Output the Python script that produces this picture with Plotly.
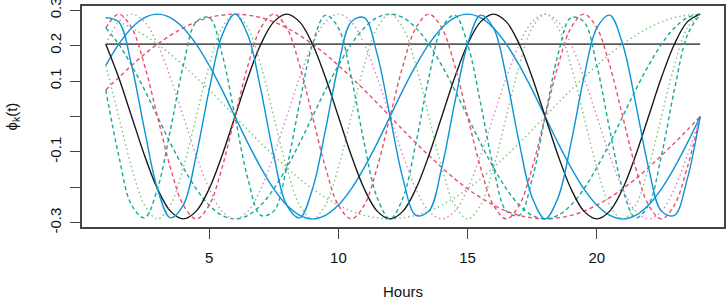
import plotly.graph_objects as go

# Evaluation grid (hours)
hours = [1, 1.5, 2, 2.5, 3, 3.5, 4, 4.5, 5, 5.5, 6, 6.5, 7, 7.5, 8, 8.5, 9, 9.5,
         10, 10.5, 11, 11.5, 12, 12.5, 13, 13.5, 14, 14.5, 15, 15.5, 16, 16.5,
         17, 17.5, 18, 18.5, 19, 19.5, 20, 20.5, 21, 21.5, 22, 22.5, 23, 23.5, 24]

# Fourier basis functions phi_k(t) read at each grid hour
const = [0.204] * 47

sin1 = [.075, .110, .144, .176, .204, .229, .250, .267, .279, .286, .289, .286, .279, .267,
        .250, .229, .204, .176, .144, .110, .075, .038, 0, -.038, -.075, -.110, -.144, -.176,
        -.204, -.229, -.250, -.267, -.279, -.286, -.289, -.286, -.279, -.267, -.250, -.229,
        -.204, -.176, -.144, -.110, -.075, -.038, 0]

cos1 = [.279, .267, .250, .229, .204, .176, .144, .110, .075, .038, 0, -.038, -.075, -.110,
        -.144, -.176, -.204, -.229, -.250, -.267, -.279, -.286, -.289, -.286, -.279, -.267,
        -.250, -.229, -.204, -.176, -.144, -.110, -.075, -.038, 0, .038, .075, .110, .144,
        .176, .204, .229, .250, .267, .279, .286, .289]

sin2 = [.144, .204, .250, .279, .289, .279, .250, .204, .144, .075, 0, -.075, -.144, -.204,
        -.250, -.279, -.289, -.279, -.250, -.204, -.144, -.075, 0, .075, .144, .204, .250,
        .279, .289, .279, .250, .204, .144, .075, 0, -.075, -.144, -.204, -.250, -.279,
        -.289, -.279, -.250, -.204, -.144, -.075, 0]

cos2 = [.250, .204, .144, .075, 0, -.075, -.144, -.204, -.250, -.279, -.289, -.279, -.250,
        -.204, -.144, -.075, 0, .075, .144, .204, .250, .279, .289, .279, .250, .204, .144,
        .075, 0, -.075, -.144, -.204, -.250, -.279, -.289, -.279, -.250, -.204, -.144, -.075,
        0, .075, .144, .204, .250, .279, .289]

sin3 = [.204, .267, .289, .267, .204, .110, 0, -.110, -.204, -.267, -.289, -.267, -.204, -.110,
        0, .110, .204, .267, .289, .267, .204, .110, 0, -.110, -.204, -.267, -.289, -.267,
        -.204, -.110, 0, .110, .204, .267, .289, .267, .204, .110, 0, -.110, -.204, -.267,
        -.289, -.267, -.204, -.110, 0]

cos3 = [.204, .110, 0, -.110, -.204, -.267, -.289, -.267, -.204, -.110, 0, .110, .204, .267,
        .289, .267, .204, .110, 0, -.110, -.204, -.267, -.289, -.267, -.204, -.110, 0, .110,
        .204, .267, .289, .267, .204, .110, 0, -.110, -.204, -.267, -.289, -.267, -.204,
        -.110, 0, .110, .204, .267, .289]

sin4 = [.250, .289, .250, .144, 0, -.144, -.250, -.289, -.250, -.144,
        0, .144, .250, .289, .250, .144, 0, -.144, -.250, -.289, -.250, -.144,
        0, .144, .250, .289, .250, .144, 0, -.144, -.250, -.289, -.250, -.144,
        0, .144, .250, .289, .250, .144, 0, -.144, -.250, -.289, -.250, -.144, 0]

cos4 = [.144, 0, -.144, -.250, -.289, -.250, -.144, 0, .144, .250,
        .289, .250, .144, 0, -.144, -.250, -.289, -.250, -.144, 0, .144, .250,
        .289, .250, .144, 0, -.144, -.250, -.289, -.250, -.144, 0, .144, .250,
        .289, .250, .144, 0, -.144, -.250, -.289, -.250, -.144, 0, .144, .250, .289]

sin5 = [.279, .267, .144, -.038, -.204, -.286, -.250, -.110, .075, .229, .289, .229, .075,
        -.110, -.250, -.286, -.204, -.038, .144, .267, .279, .176, 0, -.176, -.279, -.267,
        -.144, .038, .204, .286, .250, .110, -.075, -.229, -.289, -.229, -.075, .110, .250,
        .286, .204, .038, -.144, -.267, -.279, -.176, 0]

cos5 = [.075, -.110, -.250, -.286, -.204, -.038, .144, .267, .279, .176, 0, -.176, -.279,
        -.267, -.144, .038, .204, .286, .250, .110, -.075, -.229, -.289, -.229, -.075, .110,
        .250, .286, .204, .038, -.144, -.267, -.279, -.176, 0, .176, .279, .267, .144, -.038,
        -.204, -.286, -.250, -.110, .075, .229, .289]

series = [const, sin1, cos1, sin2, cos2, sin3, cos3, sin4, cos4, sin5, cos5]

colors = ["#1a1a1a", "#e8506c", "#7cc47a", "#0a94d8", "#16a898", "#d685c4"]
dashes = ["solid", "4px,3px", "1.5px,3px"]

fig = go.Figure()
for i, ys in enumerate(series):
    fig.add_trace(go.Scatter(
        x=hours, y=ys, mode="lines",
        line=dict(color="#5a5a5a" if i == 0 else colors[i % 6], dash=dashes[i % 3],
                  width=1.8 if i == 0 else 1.4,
                  shape="linear" if i == 0 else "spline", smoothing=1.0),
        showlegend=False, hoverinfo="skip", cliponaxis=False))

font = dict(family="Liberation Sans, Arial, Helvetica, sans-serif", size=15, color="#111")

ytick_vals = [-0.3, -0.2, -0.1, 0.0, 0.1, 0.2, 0.3]
ytick_text = ["-0.3", "", "-0.1", "", "0.1", "0.2", "0.3"]
xtick_vals = [5, 10, 15, 20]

fig.update_layout(
    width=726, height=297,
    margin=dict(l=82, r=2, t=6, b=70),
    paper_bgcolor="white", plot_bgcolor="white",
    font=font,
    xaxis=dict(range=[0.08, 24.92], tickvals=xtick_vals, ticks="outside", ticklen=10,
               tickcolor="#444", tickwidth=1.3, showline=True, mirror=True,
               linecolor="#444", linewidth=1.5, showgrid=False, zeroline=False,
               ticklabelstandoff=6, tickfont=font, automargin=False),
    yaxis=dict(range=[-0.3118, 0.3118], tickvals=ytick_vals, ticktext=ytick_text,
               ticks="outside", ticklen=10, tickcolor="#444", tickwidth=1.3,
               showline=True, mirror=True, linecolor="#444", linewidth=1.5,
               showgrid=False, zeroline=False, tickangle=-90, ticklabelstandoff=3,
               ticklabeloverflow="allow", tickfont=font, automargin=False),
    annotations=[
        dict(text="Hours", xref="paper", yref="paper", x=0.5, y=0, yshift=-64,
             xanchor="center", yanchor="middle", showarrow=False, font=font),
        dict(text="\u03d5<sub>k</sub>(t)", xref="paper", yref="paper", x=0, xshift=-70,
             y=0.5, xanchor="center", yanchor="middle", textangle=-90,
             showarrow=False, font=font),
    ],
)

fig.write_html("out.html", config={"displayModeBar": False},
               post_script="document.body.style.margin='0';")
